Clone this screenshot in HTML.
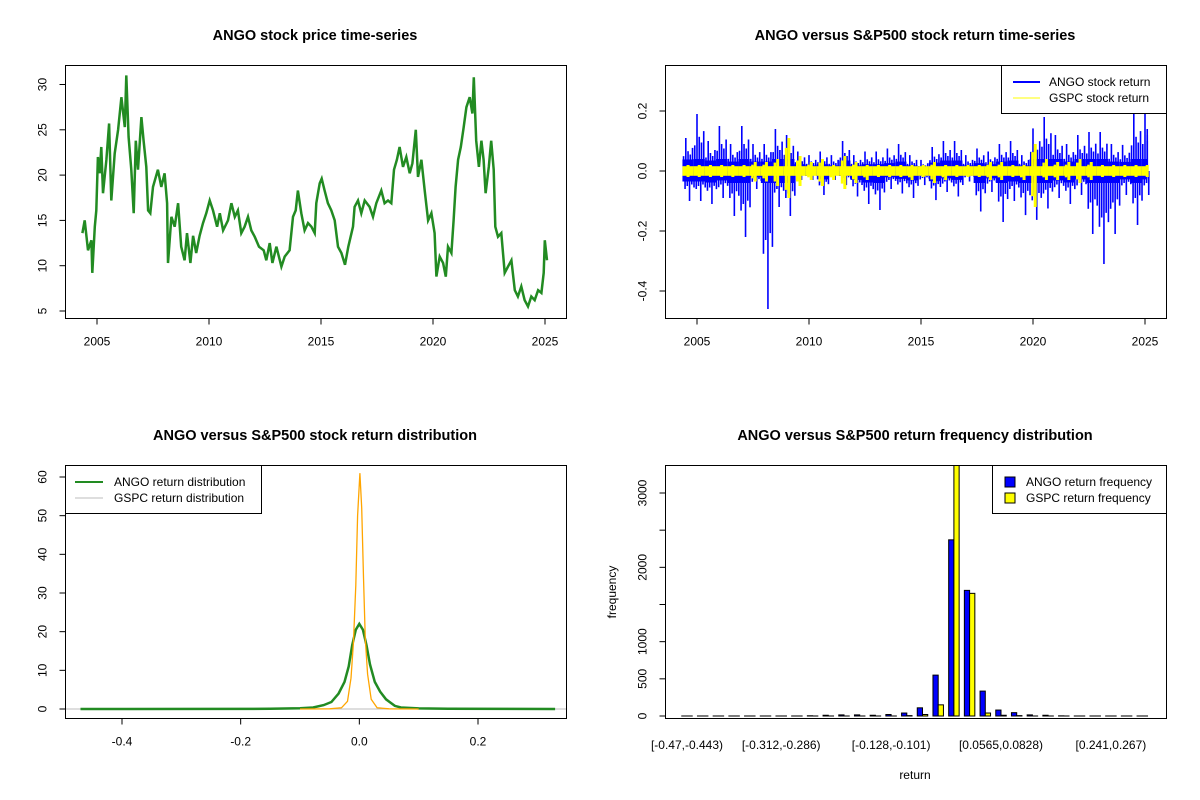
<!DOCTYPE html>
<html><head><meta charset="utf-8"><style>
html,body{margin:0;padding:0;background:#fff}
svg{display:block;font-family:"Liberation Sans",Arial,sans-serif}
.t{font-size:14.5px;font-weight:bold;text-anchor:middle}
.k{font-size:12px}
</style></head><body>
<svg id="s" width="1200" height="800" viewBox="0 0 1200 800"></svg>
<script>
// ===== Panel 1 data: ANGO price =====
const priceYears=[2004.35,2004.45,2004.60,2004.75,2004.79,2004.90,2004.97,2005.04,2005.12,2005.19,2005.27,2005.42,2005.54,2005.64,2005.79,2005.94,2006.09,2006.24,2006.31,2006.41,2006.53,2006.64,2006.73,2006.83,2006.98,2007.08,2007.20,2007.28,2007.38,2007.50,2007.72,2007.87,2008.02,2008.13,2008.17,2008.32,2008.47,2008.62,2008.76,2008.91,2009.02,2009.17,2009.29,2009.43,2009.58,2009.73,2009.88,2010.03,2010.18,2010.36,2010.48,2010.63,2010.85,2011.00,2011.15,2011.29,2011.44,2011.59,2011.74,2011.89,2012.04,2012.23,2012.44,2012.56,2012.71,2012.83,2013.01,2013.23,2013.38,2013.60,2013.75,2013.87,2013.97,2014.12,2014.27,2014.42,2014.57,2014.72,2014.79,2014.94,2015.03,2015.16,2015.31,2015.46,2015.61,2015.76,2015.91,2016.07,2016.22,2016.43,2016.50,2016.65,2016.80,2016.95,2017.17,2017.32,2017.47,2017.69,2017.84,2017.99,2018.14,2018.26,2018.39,2018.51,2018.66,2018.81,2018.96,2019.08,2019.23,2019.33,2019.48,2019.63,2019.78,2019.93,2020.07,2020.15,2020.30,2020.45,2020.57,2020.67,2020.82,2020.92,2021.01,2021.12,2021.24,2021.37,2021.49,2021.64,2021.76,2021.82,2021.93,2022.05,2022.16,2022.26,2022.35,2022.49,2022.60,2022.71,2022.78,2022.90,2023.05,2023.20,2023.35,2023.50,2023.65,2023.79,2023.94,2024.09,2024.24,2024.39,2024.54,2024.69,2024.84,2024.94,2024.99,2025.09];
const priceValues=[13.6,15.0,11.7,12.8,9.2,14.3,16.1,22.0,20.2,23.1,18.0,21.7,25.7,17.2,22.4,25.0,28.6,25.3,31.0,24.2,20.6,15.8,23.8,20.6,26.4,23.8,20.9,16.1,15.8,18.7,20.6,18.7,20.2,16.9,10.3,15.4,14.3,16.9,12.1,10.6,13.6,10.3,13.3,11.4,13.3,14.7,15.8,17.2,16.1,14.3,15.8,13.9,15.0,16.9,15.4,16.1,13.6,14.3,15.4,13.9,13.2,12.1,11.7,10.6,12.5,10.3,12.1,9.9,11.0,11.7,15.4,16.1,18.3,15.8,13.9,14.7,14.3,13.6,16.9,19.1,19.6,18.3,16.9,16.1,15.0,12.1,11.4,10.1,12.1,14.3,16.5,17.2,15.8,17.2,16.5,15.4,16.9,18.3,16.9,17.2,16.9,20.6,21.7,23.1,20.9,22.0,20.2,21.3,25.0,19.8,21.7,18.3,15.0,15.8,13.6,8.8,11.0,10.3,8.8,12.1,11.4,15.0,18.7,21.7,23.1,25.3,27.5,28.6,26.8,30.8,23.8,20.9,23.8,21.7,18.0,20.9,23.8,20.6,14.3,13.2,13.6,9.2,9.9,10.6,7.3,6.6,7.7,6.2,5.5,6.6,6.2,7.3,7.0,9.2,12.8,10.6];
const yearTicks=[2005,2010,2015,2020,2025];
const priceTicks=[5,10,15,20,25,30];
// ===== Panel 2 data: returns by half-year window starting 2004.35 =====
const retStart=2004.35, retStep=0.5;
const angoHi=[0.11,0.19,0.10,0.15,0.09,0.15,0.09,0.09,0.14,0.12,0.065,0.053,0.065,0.053,0.10,0.053,0.065,0.065,0.075,0.09,0.053,0.037,0.08,0.10,0.10,0.053,0.075,0.065,0.09,0.10,0.053,0.142,0.18,0.12,0.09,0.12,0.13,0.13,0.09,0.087,0.19,0.20];
const angoLo=[-0.10,-0.10,-0.11,-0.09,-0.15,-0.22,-0.06,-0.46,-0.12,-0.15,-0.03,-0.03,-0.08,-0.03,-0.047,-0.085,-0.11,-0.13,-0.06,-0.075,-0.09,-0.047,-0.097,-0.07,-0.085,-0.035,-0.135,-0.07,-0.17,-0.10,-0.147,-0.163,-0.125,-0.09,-0.11,-0.08,-0.21,-0.31,-0.21,-0.08,-0.18,-0.08];
const gspcHi=[0.02,0.02,0.02,0.02,0.02,0.02,0.03,0.03,0.04,0.11,0.05,0.03,0.04,0.02,0.05,0.03,0.02,0.02,0.02,0.02,0.02,0.02,0.03,0.02,0.02,0.02,0.02,0.03,0.03,0.02,0.02,0.09,0.04,0.03,0.03,0.04,0.03,0.02,0.02,0.02,0.02,0.02];
const gspcLo=[-0.02,-0.02,-0.02,-0.02,-0.02,-0.02,-0.035,-0.035,-0.05,-0.09,-0.05,-0.03,-0.05,-0.03,-0.06,-0.04,-0.03,-0.02,-0.02,-0.02,-0.03,-0.02,-0.04,-0.03,-0.02,-0.02,-0.02,-0.03,-0.03,-0.02,-0.03,-0.12,-0.03,-0.03,-0.03,-0.04,-0.03,-0.02,-0.02,-0.02,-0.02,-0.02];
const retTicks=[-0.4,-0.2,0.0,0.2];
// ===== Panel 3 data: densities =====
const angoDensX=[-0.47,-0.15,-0.1,-0.078,-0.06,-0.047,-0.035,-0.025,-0.018,-0.012,-0.006,0,0.006,0.012,0.018,0.026,0.035,0.045,0.051,0.06,0.07,0.1,0.15,0.33];
const angoDensY=[0,0.05,0.2,0.4,1,1.8,4,7,11,16.5,20.5,22,20.5,16.5,11.5,7,4.5,2.5,1.8,0.8,0.4,0.15,0.05,0];
const gspcDensX=[-0.1,-0.05,-0.03,-0.02,-0.014,-0.01,-0.006,-0.003,0.001,0.004,0.007,0.01,0.014,0.02,0.03,0.05,0.1];
const gspcDensY=[0,0.05,0.3,2,8,17,32,50,61,52,34,18,9,2.5,0.3,0.05,0];
const densXTicks=[-0.4,-0.2,0.0,0.2];
const densYTicks=[0,10,20,30,40,50,60];
// ===== Panel 4 data: histogram =====
const binLabels=["[-0.47,-0.443)","[-0.312,-0.286)","[-0.128,-0.101)","[0.0565,0.0828)","[0.241,0.267)"];
const binLabelIdx=[0,6,13,20,27];
const angoFreq=[0,0,0,0,0,0,0,0,3,10,15,15,10,20,40,110,550,2370,1690,335,80,45,15,10,2,0,0,0,0,0];
const gspcFreq=[0,0,0,0,0,0,0,0,0,0,0,0,0,0,5,20,150,3500,1650,40,10,5,0,0,0,0,0,0,0,0];
const freqTicks=[0,500,1000,1500,2000,2500,3000];
const freqTickLabels=["0","500","1000","","2000","","3000"];

const NS="http://www.w3.org/2000/svg", S=document.getElementById('s');
function el(tag,attrs,parent,txt){const e=document.createElementNS(NS,tag);for(const k in attrs)e.setAttribute(k,attrs[k]);if(txt!==undefined)e.textContent=txt;(parent||S).appendChild(e);return e;}
function grp(name){const g=el('g',{},S);return g;}
function lin(d0,d1,r0,r1){return v=>r0+(v-d0)*(r1-r0)/(d1-d0);}
function clip(id,x,y,w,h){const c=el('clipPath',{id:id},S);el('rect',{x:x,y:y,width:w,height:h},c);}
function box(g,x0,y0,x1,y1){const r=el('rect',{x:x0,y:y0,width:x1-x0,height:y1-y0,fill:'none',stroke:'#000','stroke-width':1},g);}
function title(g,x,y,s){const t=el('text',{x:x,y:y,class:'t'},g,s);}
function xaxis(g,ticks,X,y,labels){const a=el('g',{},g);
 el('line',{x1:X(ticks[0]),x2:X(ticks[ticks.length-1]),y1:y,y2:y,stroke:'#000'},a);
 ticks.forEach((t,i)=>{el('line',{x1:X(t),x2:X(t),y1:y,y2:y+6,stroke:'#000'},a);const l=el('text',{x:X(t),y:y+27,class:'k','text-anchor':'middle'},a,labels?labels[i]:String(t));});}
function yaxis(g,ticks,Y,x,labels){const a=el('g',{},g);
 el('line',{x1:x,x2:x,y1:Y(ticks[0]),y2:Y(ticks[ticks.length-1]),stroke:'#000'},a);
 ticks.forEach((t,i)=>{const yy=Y(t);el('line',{x1:x,x2:x-6,y1:yy,y2:yy,stroke:'#000'},a);const s=labels?labels[i]:String(t);if(s){const l=el('text',{x:x-19,y:yy,class:'k','text-anchor':'middle',transform:`rotate(-90 ${x-19} ${yy})`},a,s);}});}

// ---------- Panel 1 ----------
(function(){const g=grp('price-panel');
 const X=lin(2005,2025,97,545), Y=lin(5,30,311,84.5);
 title(g,315,40,'ANGO stock price time-series');
 const p=el('path',{d:priceYears.map((t,i)=>(i?'L':'M')+X(t).toFixed(1)+','+Y(priceValues[i]).toFixed(1)).join(''),fill:'none',stroke:'#228b22','stroke-width':2.5,'stroke-linejoin':'miter'},g);
 
 box(g,65.5,65.5,566.5,318.5);
 xaxis(g,yearTicks,X,318.5);yaxis(g,priceTicks,Y,65.5,priceTicks.map(v=>v.toFixed(0)));
})();

// ---------- Panel 2 ----------
(function(){const g=grp('return-panel');clip('c2',666,66,500,252);
 const X=lin(2005,2025,697,1145), Y=lin(0,0.2,171,111);
 title(g,915,40,'ANGO versus S&P500 stock return time-series');
 const d=el('g',{'clip-path':'url(#c2)'},g);
 const ango=el('g',{},d);
 const fr=[0.1,0.3,0.5,0.7,0.9];
 const sc=[0.45,1,0.6,0.5,0.7];
 const sl=[0.6,0.5,1,0.45,0.55];
 angoHi.forEach((h,i)=>{const t0=retStart+i*retStep,t1=Math.min(t0+retStep,2025.1);const lo=angoLo[i];
  const bh=Math.min(h*0.35,0.04),bl=Math.max(lo*0.35,-0.04);
  el('rect',{x:X(t0),y:Y(bh),width:X(t1)-X(t0),height:Y(bl)-Y(bh),fill:'#0000ff'},ango);
  fr.forEach((f,j)=>{const xx=X(Math.min(t0+retStep*f,2025.1));
   el('line',{x1:xx,x2:xx,y1:Y(h*sc[j]),y2:Y(0),stroke:'#0000ff','stroke-width':1.6},ango);
   el('line',{x1:xx+1.5,x2:xx+1.5,y1:Y(0),y2:Y(lo*sl[j]),stroke:'#0000ff','stroke-width':1.6},ango);});});
 const gs=el('g',{},d);
 gspcHi.forEach((h,i)=>{const t0=retStart+i*retStep,t1=Math.min(t0+retStep,2025.1);const lo=gspcLo[i];
  el('rect',{x:X(t0),y:Y(Math.min(h,0.02)*0.8),width:X(t1)-X(t0),height:Y(Math.max(lo,-0.02)*0.8)-Y(Math.min(h,0.02)*0.8),fill:'#ffff00'},gs);
  el('line',{x1:X(t0+retStep*0.5),x2:X(t0+retStep*0.5),y1:Y(h),y2:Y(lo),stroke:'#ffff00','stroke-width':3},gs);
  el('line',{x1:X(t0+retStep*0.25),x2:X(t0+retStep*0.25),y1:Y(h*0.7),y2:Y(lo*0.7),stroke:'#ffff00','stroke-width':2.5},gs);});
 box(g,665.5,65.5,1166.5,318.5);
 xaxis(g,yearTicks,X,318.5);yaxis(g,retTicks,Y,665.5,retTicks.map(v=>v.toFixed(1)));
 const lg=el('g',{},g);
 el('rect',{x:1001.5,y:65.5,width:165,height:48,fill:'#fff',stroke:'#000'},lg);
 el('line',{x1:1013,x2:1040,y1:82,y2:82,stroke:'#0000ff','stroke-width':2},lg);
 el('line',{x1:1013,x2:1040,y1:98,y2:98,stroke:'#ffff00','stroke-width':1},lg);
 el('text',{x:1049,y:86,class:'k'},lg,'ANGO stock return');el('text',{x:1049,y:102,class:'k'},lg,'GSPC stock return');
})();

// ---------- Panel 3 ----------
(function(){const g=grp('density-panel');clip('c3',66,466,500,252);
 const X=lin(-0.4,0.2,122,478), Y=lin(0,60,709,477);
 title(g,315,440,'ANGO versus S&P500 stock return distribution');
 const d=el('g',{'clip-path':'url(#c3)'},g);
 el('line',{x1:66,x2:566,y1:Y(0),y2:Y(0),stroke:'#bebebe'},d);
 const a=el('path',{d:angoDensX.map((x,i)=>(i?'L':'M')+X(x).toFixed(1)+','+Y(angoDensY[i]).toFixed(1)).join(''),fill:'none',stroke:'#228b22','stroke-width':2.5},d);
 
 const b=el('path',{d:gspcDensX.map((x,i)=>(i?'L':'M')+X(x).toFixed(1)+','+Y(gspcDensY[i]).toFixed(1)).join(''),fill:'none',stroke:'#ffa500','stroke-width':1.3},d);
 
 box(g,65.5,465.5,566.5,718.5);
 xaxis(g,densXTicks,X,718.5,densXTicks.map(v=>v.toFixed(1)));yaxis(g,densYTicks,Y,65.5);
 const lg=el('g',{},g);
 el('rect',{x:65.5,y:465.5,width:196,height:48,fill:'#fff',stroke:'#000'},lg);
 el('line',{x1:75,x2:103,y1:482,y2:482,stroke:'#228b22','stroke-width':2},lg);
 el('line',{x1:75,x2:103,y1:498,y2:498,stroke:'#bebebe','stroke-width':1},lg);
 el('text',{x:114,y:486,class:'k'},lg,'ANGO return distribution');el('text',{x:114,y:502,class:'k'},lg,'GSPC return distribution');
})();

// ---------- Panel 4 ----------
(function(){const g=grp('histogram-panel');clip('c4',666,466,500,252);
 const gc=i=>687+i*15.7, bw=5.24, Y=lin(0,3000,716,493);
 title(g,915,440,'ANGO versus S&P500 return frequency distribution');
 const d=el('g',{'clip-path':'url(#c4)'},g);
 angoFreq.forEach((v,i)=>{const h=Math.max(Y(0)-Y(v),0.01);const r=el('rect',{x:gc(i)-bw,y:Y(0)-h,width:bw,height:h,fill:'#0000ff',stroke:'#000','stroke-width':1},d);
  });
 gspcFreq.forEach((v,i)=>{const h=Math.max(Y(0)-Y(v),0.01);const r=el('rect',{x:gc(i),y:Y(0)-h,width:bw,height:h,fill:'#ffff00',stroke:'#000','stroke-width':1},d);
  });
 box(g,665.5,465.5,1166.5,718.5);
 yaxis(g,freqTicks,Y,665.5,freqTickLabels);
 binLabelIdx.forEach((bi,j)=>{const t=el('text',{x:gc(bi),y:749,class:'k','text-anchor':'middle'},g,binLabels[j]);});
 const xl=el('text',{x:915,y:779,class:'k','text-anchor':'middle'},g,'return');
 const yl=el('text',{x:616,y:592,class:'k','text-anchor':'middle',transform:'rotate(-90 616 592)'},g,'frequency');
 const lg=el('g',{},g);
 el('rect',{x:992.5,y:465.5,width:174,height:48,fill:'#fff',stroke:'#000'},lg);
 el('rect',{x:1005,y:477,width:10,height:10,fill:'#0000ff',stroke:'#000'},lg);
 el('rect',{x:1005,y:493,width:10,height:10,fill:'#ffff00',stroke:'#000'},lg);
 el('text',{x:1026,y:486,class:'k'},lg,'ANGO return frequency');el('text',{x:1026,y:502,class:'k'},lg,'GSPC return frequency');
})();
</script>
</body></html>
